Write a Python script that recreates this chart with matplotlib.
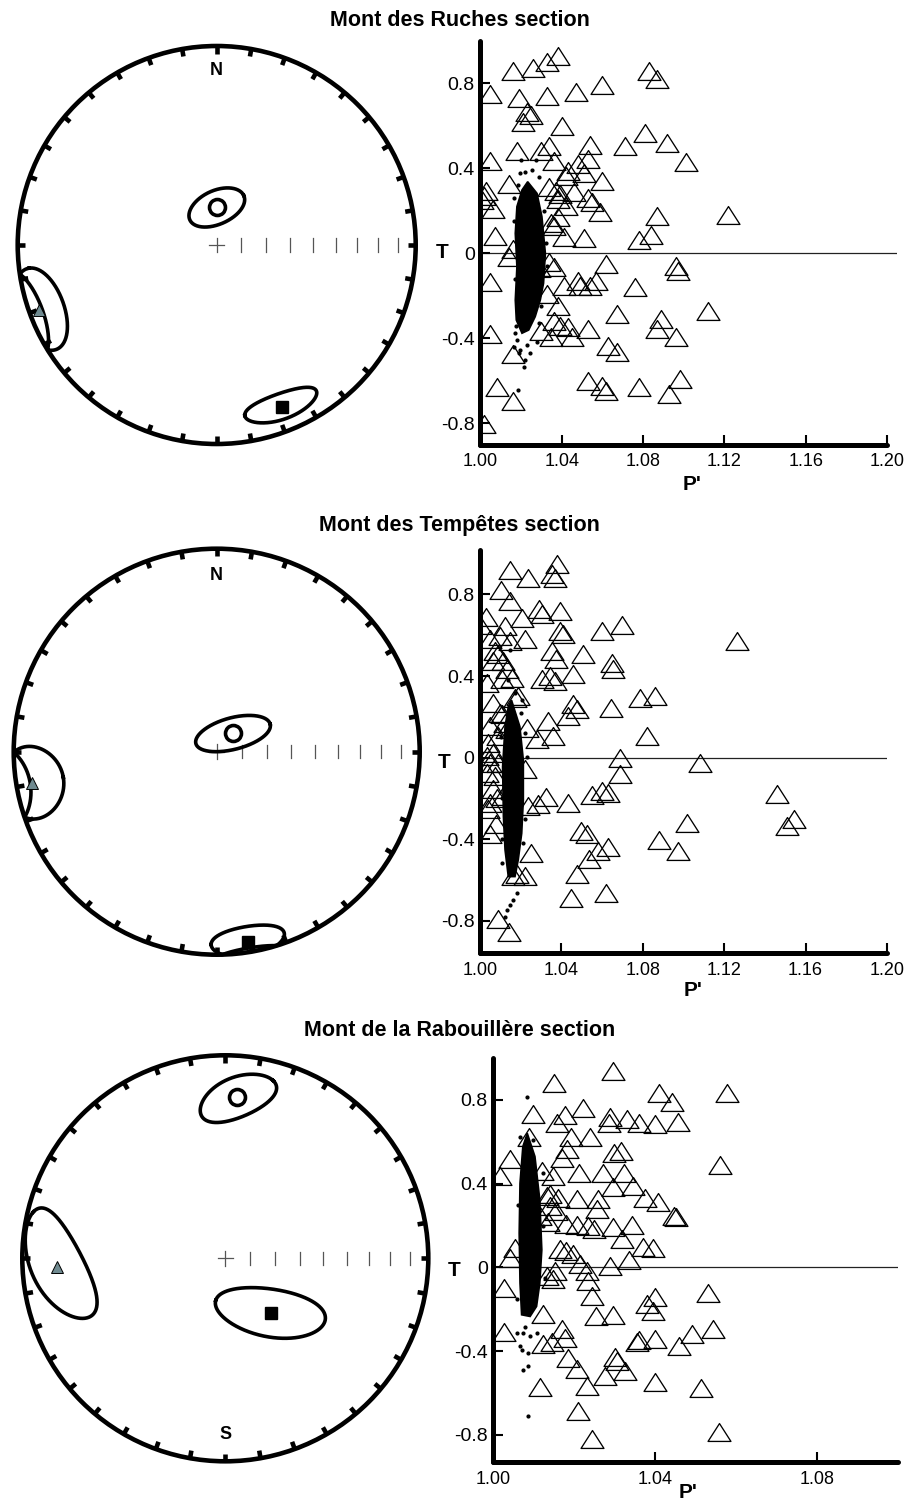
import numpy as np
import matplotlib
matplotlib.use("Agg")
import matplotlib.pyplot as plt
from matplotlib.path import Path
from matplotlib.patches import Circle

plt.rcParams['font.family'] = ['Liberation Sans', 'DejaVu Sans']

# ---------------------------------------------------------------------------
# Section names
sections = ["Mont des Ruches section", "Mont des Tempêtes section",
            "Mont de la Rabouillère section"]

# Mean principal axes (K1, K2, K3): declination / inclination, degrees
ruches_dec = [158.1, 249.9, 0.0]
ruches_inc = [13.5, 5.7, 74.6]
tempetes_dec = [170.6, 260.5, 42.0]
tempetes_inc = [5.7, 8.4, 80.2]
rabou_dec = [140.3, 267.1, 4.2]
rabou_inc = [61.2, 18.0, 21.3]

# Confidence cones (K1, K2, K3): semi-angles (deg) and azimuth of the long
# semi-axis in the tangent plane (deg, from the declination direction)
ruches_conf_major = [12.2, 13.0, 12.0]
ruches_conf_minor = [6.7, 13.0, 6.9]
ruches_conf_azim = [5.0, 0.0, -25.0]
tempetes_conf_major = [11.0, 16.0, 15.4]
tempetes_conf_minor = [8.0, 11.0, 6.3]
tempetes_conf_azim = [0.0, 90.0, -57.0]
rabou_conf_major = [22.5, 22.0, 15.2]
rabou_conf_minor = [9.5, 11.5, 8.5]
rabou_conf_azim = [51.8, -41.0, -45.0]

# Specimen shape parameters (P', T)
ruches_P = [1.038, 1.033, 1.026, 1.016, 1.083, 1.087, 1.060, 1.047, 1.033, 1.019,
            1.005, 1.025, 1.023, 1.021, 1.040, 1.081, 1.092, 1.071, 1.054, 1.034,
            1.030, 1.018, 1.101, 1.005, 1.036, 1.053, 1.048, 1.043, 1.051, 1.060,
            1.014, 1.003, 1.002, 1.001, 1.034, 1.037, 1.039, 1.046, 1.038, 1.042,
            1.053, 1.055, 1.059, 1.006, 1.087, 1.122, 1.038, 1.007, 1.084, 1.078,
            1.051, 1.041, 1.036, 1.016, 1.014, 1.034, 1.036, 1.062, 1.096, 1.097,
            1.005, 1.048, 1.049, 1.057, 1.054, 1.041, 1.076, 1.033, 1.038, 1.067,
            1.112, 1.036, 1.039, 1.043, 1.030, 1.053, 1.089, 1.087, 1.096, 1.005,
            1.035, 1.045, 1.063, 1.067, 1.016, 1.053, 1.060, 1.062, 1.078, 1.098,
            1.093, 1.008, 1.016, 1.002, 1.042, 1.029, 1.035]
ruches_T = [0.930, 0.899, 0.872, 0.856, 0.860, 0.820, 0.792, 0.758, 0.742, 0.729,
            0.750, 0.651, 0.665, 0.616, 0.601, 0.566, 0.519, 0.507, 0.510, 0.504,
            0.483, 0.483, 0.428, 0.436, 0.436, 0.444, 0.420, 0.386, 0.380, 0.342,
            0.326, 0.295, 0.271, 0.250, 0.311, 0.295, 0.280, 0.287, 0.256, 0.224,
            0.259, 0.240, 0.193, 0.209, 0.177, 0.182, 0.169, 0.083, 0.088, 0.064,
            0.072, 0.078, 0.130, 0.020, -0.019, -0.042, -0.066, -0.050, -0.058, -0.082,
            -0.136, -0.129, -0.152, -0.129, -0.152, -0.152, -0.160, -0.191, -0.246, -0.285,
            -0.270, -0.317, -0.340, -0.348, -0.364, -0.356, -0.309, -0.356, -0.395, -0.380,
            -0.395, -0.395, -0.435, -0.466, -0.474, -0.599, -0.623, -0.646, -0.631, -0.591,
            -0.662, -0.631, -0.693, -0.803, 0.365, -0.068, 0.145]

tempetes_P = [1.0376, 1.0147, 1.0237, 1.0368, 1.0352, 1.0103, 1.0147, 1.0291, 1.0393, 1.0028,
              1.0205, 1.0303, 1.0700, 1.0601, 1.0393, 1.0406, 1.1265, 1.0123, 1.0049, 1.0098,
              1.0221, 1.0147, 1.0507, 1.0352, 1.0372, 1.0650, 1.0655, 1.0458, 1.0344, 1.0303,
              1.0368, 1.0065, 1.0131, 1.0106, 1.0033, 1.0786, 1.0859, 1.0642, 1.0458, 1.0475,
              1.0434, 1.0172, 1.0065, 1.0098, 1.0822, 1.0336, 1.0360, 1.0278, 1.0229, 1.0041,
              1.0090, 1.0687, 1.1083, 1.0687, 1.0221, 1.0049, 1.0074, 1.1460, 1.0601, 1.0630,
              1.0548, 1.0324, 1.0434, 1.0287, 1.0237, 1.0082, 1.0049, 1.1018, 1.1543, 1.1510,
              1.0496, 1.0524, 1.0880, 1.0974, 1.0630, 1.0581, 1.0537, 1.0475, 1.0079, 1.0049,
              1.0249, 1.0180, 1.0617, 1.0447, 1.0090, 1.0142, 1.0000, 1.0074, 1.0090, 1.0115,
              1.0155, 1.0188, 1.0106, 1.0123, 1.0131, 1.0049, 1.0033, 1.0065, 1.0090, 1.0033,
              1.0065, 1.0115, 1.0040, 1.0221, 1.0164]
tempetes_T = [0.950, 0.918, 0.882, 0.882, 0.898, 0.824, 0.767, 0.727, 0.718, 0.691,
              0.686, 0.702, 0.648, 0.620, 0.620, 0.604, 0.571, 0.645, 0.580, 0.596,
              0.580, 0.571, 0.506, 0.522, 0.482, 0.465, 0.433, 0.408, 0.400, 0.384,
              0.376, 0.473, 0.433, 0.384, 0.367, 0.291, 0.302, 0.245, 0.261, 0.237,
              0.204, 0.294, 0.269, 0.220, 0.106, 0.180, 0.106, 0.090, 0.147, 0.073,
              0.106, 0.000, -0.024, -0.082, -0.057, -0.024, -0.090, -0.180, -0.163, -0.171,
              -0.184, -0.191, -0.220, -0.229, -0.237, -0.196, -0.220, -0.318, -0.302, -0.335,
              -0.359, -0.376, -0.405, -0.457, -0.436, -0.457, -0.498, -0.571, -0.327, -0.376,
              -0.465, -0.571, -0.661, -0.686, -0.792, -0.857, 0.650, 0.522, 0.506, 0.473,
              0.392, 0.302, 0.212, 0.171, 0.139, 0.155, 0.008, 0.024, -0.024, -0.073,
              -0.155, -0.188, -0.253, -0.580, -0.580]

rabou_P = [1.0295, 1.0150, 1.0578, 1.0410, 1.0443, 1.0099, 1.0223, 1.0177, 1.0157, 1.0289,
           1.0285, 1.0330, 1.0361, 1.0400, 1.0456, 1.0089, 1.0191, 1.0239, 1.0560, 1.0317,
           1.0298, 1.0182, 1.0170, 1.0041, 1.0017, 1.0120, 1.0213, 1.0272, 1.0322, 1.0148,
           1.0297, 1.0346, 1.0140, 1.0161, 1.0206, 1.0260, 1.0375, 1.0408, 1.0256, 1.0155,
           1.0448, 1.0451, 1.0181, 1.0206, 1.0235, 1.0250, 1.0297, 1.0342, 1.0165, 1.0181,
           1.0198, 1.0318, 1.0371, 1.0396, 1.0336, 1.0289, 1.0214, 1.0231, 1.0235, 1.0153,
           1.0132, 1.0148, 1.0041, 1.0054, 1.0027, 1.0532, 1.0400, 1.0380, 1.0396, 1.0243,
           1.0295, 1.0254, 1.0124, 1.0026, 1.0544, 1.0492, 1.0169, 1.0177, 1.0361, 1.0355,
           1.0400, 1.0458, 1.0146, 1.0124, 1.0185, 1.0206, 1.0301, 1.0305, 1.0326, 1.0276,
           1.0231, 1.0115, 1.0400, 1.0513, 1.0210, 1.0557, 1.0243, 1.0132, 1.0140, 1.0115,
           1.0136]
rabou_T = [0.938, 0.880, 0.835, 0.835, 0.790, 0.735, 0.760, 0.727, 0.692, 0.720,
           0.692, 0.711, 0.692, 0.684, 0.697, 0.623, 0.625, 0.623, 0.488, 0.557,
           0.546, 0.565, 0.525, 0.520, 0.437, 0.461, 0.453, 0.453, 0.453, 0.437,
           0.386, 0.390, 0.350, 0.334, 0.326, 0.326, 0.334, 0.315, 0.278, 0.270,
           0.247, 0.240, 0.207, 0.202, 0.199, 0.183, 0.191, 0.202, 0.087, 0.080,
           0.064, 0.135, 0.099, 0.095, 0.037, 0.008, 0.016, -0.016, -0.064, -0.016,
           -0.040, -0.056, 0.043, 0.095, -0.100, -0.122, -0.143, -0.175, -0.207, -0.138,
           -0.227, -0.231, -0.223, -0.307, -0.294, -0.318, -0.294, -0.339, -0.345, -0.358,
           -0.342, -0.374, -0.358, -0.366, -0.434, -0.485, -0.429, -0.445, -0.493, -0.517,
           -0.565, -0.573, -0.549, -0.577, -0.684, -0.787, -0.819, 0.342, 0.294, 0.247,
           0.215]

# Bootstrap cloud: outline of the dense core and the sparse outer points
ruches_core_P = [1.0233, 1.0279, 1.0303, 1.0320, 1.0311, 1.0295, 1.0270, 1.0238, 1.0205,
                 1.0177, 1.0172, 1.0180, 1.0172, 1.0180, 1.0205]
ruches_core_T = [0.337, 0.282, 0.173, 0.000, -0.141, -0.220, -0.298, -0.361, -0.376,
                 -0.314, -0.220, -0.063, 0.094, 0.220, 0.298]
ruches_boot_P = [1.0197, 1.0221, 1.0254, 1.0202, 1.0274, 1.0184, 1.0287, 1.0164, 1.0197,
                 1.0230, 1.0180, 1.0221, 1.0216, 1.0189, 1.0184, 1.0279, 1.0246, 1.0172,
                 1.0166, 1.0170, 1.0325, 1.0330, 1.0315, 1.0300, 1.0290, 1.0176, 1.0168]
ruches_boot_T = [0.376, 0.384, 0.392, 0.439, 0.439, 0.322, 0.361, -0.439, -0.455,
                 -0.431, -0.408, -0.502, -0.533, -0.471, -0.643, -0.416, -0.471, -0.376,
                 0.150, -0.120, 0.050, -0.060, 0.200, -0.250, -0.330, -0.340, 0.260]

tempetes_core_P = [1.0155, 1.0196, 1.0213, 1.0213, 1.0205, 1.0188, 1.0172, 1.0139, 1.0123,
                   1.0115, 1.0111, 1.0123, 1.0139]
tempetes_core_T = [0.282, 0.152, -0.011, -0.207, -0.371, -0.501, -0.583, -0.583, -0.452,
                   -0.289, -0.044, 0.152, 0.250]
tempetes_boot_P = [1.0147, 1.0139, 1.0172, 1.0205, 1.0180, 1.0164, 1.0147, 1.0131, 1.0123,
                   1.0106, 1.0213, 1.0232, 1.0221, 1.0105, 1.0108, 1.0222, 1.0200, 1.0110]
tempetes_boot_T = [0.527, 0.380, 0.315, 0.282, -0.664, -0.697, -0.722, -0.746, -0.779,
                   -0.518, -0.420, 0.005, 0.119, 0.100, -0.200, -0.300, 0.220, -0.400]

rabou_core_P = [1.0084, 1.0103, 1.0115, 1.0120, 1.0115, 1.0107, 1.0091, 1.0070, 1.0066,
                1.0064, 1.0066, 1.0073]
rabou_core_T = [0.641, 0.530, 0.323, 0.084, -0.075, -0.186, -0.234, -0.226, -0.075,
                0.164, 0.402, 0.577]
rabou_boot_P = [1.0084, 1.0066, 1.0099, 1.0074, 1.0091, 1.0070, 1.0087, 1.0074, 1.0087,
                1.0087, 1.0107, 1.0078, 1.0058, 1.0066, 1.0124, 1.0127, 1.0060, 1.0059,
                1.0122]
rabou_boot_T = [0.816, 0.625, 0.609, -0.313, -0.329, -0.393, -0.409, -0.488, -0.472,
                -0.711, -0.313, -0.282, -0.313, -0.377, 0.200, -0.050, 0.300, -0.150,
                0.450]

y_ticks = [-0.8, -0.4, 0.0, 0.4, 0.8]
y_tick_labels = ["-0.8", "-0.4", "0", "0.4", "0.8"]
x_ticks_wide = [1.00, 1.04, 1.08, 1.12, 1.16, 1.20]
x_ticks_narrow = [1.00, 1.04, 1.08]

# ---------------------------------------------------------------------------
W, H = 908, 1511
fig = plt.figure(figsize=(W / 100, H / 100), dpi=100)


def px_axes(left, top, right, bottom):
    return fig.add_axes([left / W, 1 - bottom / H, (right - left) / W, (bottom - top) / H])


def equal_area(dec, inc):
    """Lower-hemisphere Lambert (Schmidt) projection, unit primitive."""
    d = np.radians(dec)
    r = np.sqrt(1.0 - np.sin(np.radians(inc)))
    return r * np.sin(d), r * np.cos(d)


def cone_outline(dec, inc, major, minor, azim, n=720):
    d, i = np.radians(dec), np.radians(inc)
    v = np.array([np.cos(i) * np.sin(d), np.cos(i) * np.cos(d), np.sin(i)])
    eh = np.array([np.cos(d), -np.sin(d), 0.0])
    ev = np.array([-np.sin(i) * np.sin(d), -np.sin(i) * np.cos(d), np.cos(i)])
    a = np.radians(azim)
    u1 = np.cos(a) * eh + np.sin(a) * ev
    u2 = -np.sin(a) * eh + np.cos(a) * ev
    t = np.linspace(0, 2 * np.pi, n)
    p = (v[:, None] + np.tan(np.radians(major)) * np.cos(t) * u1[:, None]
         + np.tan(np.radians(minor)) * np.sin(t) * u2[:, None])
    p /= np.linalg.norm(p, axis=0)
    p[2] = np.abs(p[2])  # upward parts folded onto the lower hemisphere
    inc_p = np.degrees(np.arcsin(np.clip(p[2], -1, 1)))
    dec_p = np.degrees(np.arctan2(p[0], p[1]))
    return equal_area(dec_p, inc_p)


def stereonet(cx, cy, R, decs, incs, cmaj, cmin, cazi, pole_label, pole_y):
    L = 1.1
    ax = px_axes(cx - L * R, cy - L * R, cx + L * R, cy + L * R)
    ax.set_xlim(-L, L)
    ax.set_ylim(-L, L)
    ax.set_aspect('equal')
    ax.axis('off')
    ax.add_patch(Circle((0, 0), 1.0, fill=False, lw=3.3, color='black', zorder=3))
    for az in np.arange(0, 360, 10):
        s, c = np.sin(np.radians(az)), np.cos(np.radians(az))
        ax.plot([s, 0.962 * s], [c, 0.962 * c], color='black', lw=3.3,
                solid_capstyle='butt', zorder=3)
    # inclination scale along the east radius
    ax.plot([-0.037, 0.037], [0, 0], color='#555555', lw=0.9)
    ax.plot([0, 0], [-0.037, 0.037], color='#555555', lw=0.9)
    for inc_tick in range(80, 0, -10):
        x, _ = equal_area(90.0, inc_tick)
        ax.plot([x, x], [-0.033, 0.033], color='#555555', lw=0.9)
    ax.text(0, pole_y, pole_label, ha='center', va='center', fontsize=13,
            fontweight='bold')
    for k in range(3):
        ex, ey = cone_outline(decs[k], incs[k], cmaj[k], cmin[k], cazi[k])
        ax.plot(ex, ey, color='black', lw=2.6, zorder=4)
    x1, y1 = equal_area(decs[0], incs[0])
    x2, y2 = equal_area(decs[1], incs[1])
    x3, y3 = equal_area(decs[2], incs[2])
    ax.plot(x1, y1, 's', ms=8, color='black', zorder=5)
    ax.plot(x2, y2, '^', ms=9, mfc='#6f8a90', mec='black', mew=0.7, zorder=5)
    ax.plot(x3, y3, 'o', ms=11.5, mfc='white', mec='black', mew=2.6, zorder=5)
    return ax


tri_marker = Path([(0.0, 0.78), (-1.0, -0.78), (1.0, -0.78), (0.0, 0.78)], closed=True)


def shape_plot(left, right, top, bottom, xlim, ylim, xticks, P, T, coreP, coreT,
               bootP, bootT, spine_end=None):
    ax = px_axes(left, top, right, bottom)
    ax.set_xlim(*xlim)
    ax.set_ylim(*ylim)
    for side in ('top', 'right'):
        ax.spines[side].set_visible(False)
    for side in ('left', 'bottom'):
        ax.spines[side].set_linewidth(3.6)
        ax.spines[side].set_capstyle('round')
    if spine_end is not None:
        ax.spines['bottom'].set_bounds(xlim[0], spine_end)
    ax.axhline(0, color='#222222', lw=0.9, zorder=1)
    ax.fill(coreP, coreT, color='black', lw=1.2, ec='black', zorder=2)
    ax.plot(bootP, bootT, 'o', ms=2.0, color='black', zorder=2)
    ax.plot(P, T, linestyle='none', marker=tri_marker, ms=16.5, mfc='none',
            mec='black', mew=0.95, zorder=3)
    ax.set_yticks(y_ticks)
    ax.set_yticklabels(y_tick_labels)
    ax.set_xticks(xticks)
    ax.set_xticklabels([f"{v:.2f}" for v in xticks])
    ax.tick_params(direction='in', length=7, width=1.5, labelsize=13)
    ax.tick_params(axis='y', pad=4, labelsize=14)
    ax.tick_params(axis='x', pad=6)
    return ax


def fig_text(x, y, s, **kw):
    fig.text(x / W, 1 - y / H, s, ha='center', va='center', **kw)


# Row 1
fig_text(460, 21, sections[0], fontsize=15.5, fontweight='bold')
stereonet(216.7, 245.0, 199, ruches_dec, ruches_inc, ruches_conf_major,
          ruches_conf_minor, ruches_conf_azim, "N", 0.879)
shape_plot(480.3, 897.2, 40.8, 444.6, (1.0, 1.205), (-0.9, 1.0), x_ticks_wide,
           ruches_P, ruches_T, ruches_core_P, ruches_core_T, ruches_boot_P,
           ruches_boot_T, spine_end=1.2)
fig_text(442, 253, "T", fontsize=15, fontweight='bold')
fig_text(692, 484, "P'", fontsize=15, fontweight='bold')

# Row 2
fig_text(459, 526, sections[1], fontsize=15.5, fontweight='bold')
stereonet(216.7, 751.7, 203, tempetes_dec, tempetes_inc, tempetes_conf_major,
          tempetes_conf_minor, tempetes_conf_azim, "N", 0.87)
shape_plot(480.0, 887.0, 549.6, 953.5, (1.0, 1.2), (-0.96, 1.02), x_ticks_wide,
           tempetes_P, tempetes_T, tempetes_core_P, tempetes_core_T,
           tempetes_boot_P, tempetes_boot_T)
fig_text(444, 763, "T", fontsize=15, fontweight='bold')
fig_text(693, 990, "P'", fontsize=15, fontweight='bold')

# Row 3
fig_text(460, 1031, sections[2], fontsize=15.5, fontweight='bold')
stereonet(225.3, 1258.3, 203, rabou_dec, rabou_inc, rabou_conf_major,
          rabou_conf_minor, rabou_conf_azim, "S", -0.87)
shape_plot(493.3, 897.7, 1058.1, 1462.2, (1.0, 1.1), (-0.93, 1.0), x_ticks_narrow,
           rabou_P, rabou_T, rabou_core_P, rabou_core_T, rabou_boot_P, rabou_boot_T)
fig_text(454, 1270, "T", fontsize=15, fontweight='bold')
fig_text(688, 1493, "P'", fontsize=15, fontweight='bold')

fig.savefig("out.png", dpi=100, facecolor='white')
